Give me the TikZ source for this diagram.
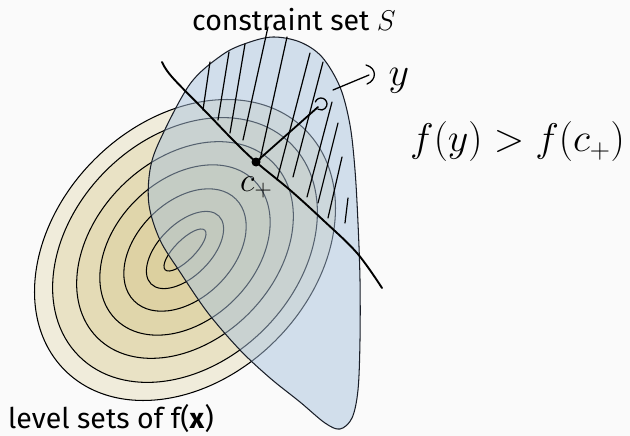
\RequirePackage{fix-cm}
\documentclass[tikz,border=0pt]{standalone}
\usepackage{fontspec}
\setmainfont{Fira Sans}
\definecolor{bgc}{RGB}{250,250,250}
\definecolor{lvl}{RGB}{218,204,148}
\definecolor{cset}{RGB}{170,195,222}
\definecolor{csetline}{RGB}{25,30,40}
\tikzset{
  levelset/.style={draw=black, line width=1.05pt, fill=lvl, fill opacity=0.3},
  constraintset/.style={draw=csetline, line width=1.05pt, fill=cset, fill opacity=0.5},
  hatch/.style={line width=1.2pt, line cap=round},
  curveline/.style={line width=1.9pt, line cap=round},
  penline/.style={line width=1.8pt, line cap=round},
  label/.style={inner sep=0pt, font=\fontsize{28.5}{34}\selectfont},
}
\begin{document}
\begin{tikzpicture}[x=1pt,y=-1pt]
\useasboundingbox (0,0) rectangle (630,436);
\fill[bgc] (0,0) rectangle (630,436);
% level sets
\begin{scope}[shift={(185,250)},rotate=45]
  \foreach \a/\b in {170/128,150/112,124/90,98/70,72/48,48/26,28/10}
    \path[levelset] (0,0) ellipse [x radius=\a, y radius=\b];
\end{scope}
% constraint set
\path[constraintset] plot[smooth cycle, tension=0.55] coordinates {
  (273,37) (300,42) (322,57) (340,87) (350,125) (355,170) (358,223) (360,280)
  (360,340) (358,390) (352,418) (340,429) (325,423) (300,402) (270,378) (240,350)
  (208,313) (180,272) (160,240) (149,205) (150,170) (160,140) (190,84) (222,55) (247,43)};
% hatching
\draw[hatch] (210,62) -- (203,110)
  (229,52) -- (218,120)
  (245,44) -- (230,133)
  (268,27) -- (243,140)
  (287,37) -- (260,160)
  (310,53) -- (277,180)
  (323,62) -- (293,177)
  (332,102) -- (307,197)
  (338,123) -- (318,203)
  (342,157) -- (328,218)
  (348,198) -- (345,223);
% separating curve
\draw[curveline] plot[smooth, tension=0.6] coordinates {
  (162,62) (172,77) (207,113) (233,140) (256,162) (290,190) (323,220) (357,253) (382,288)};
% points
\coordinate (cplus) at (256,162);
\coordinate (ypt) at (318,107);
\coordinate (ytail) at (333,90);
\coordinate (yhead) at (369,75);
\draw[penline] (cplus) -- (ypt);
\fill (cplus) circle[radius=4.5];
\draw[penline, line width=1.3pt] (321,104) ++(-160:6) arc[start angle=-160, end angle=120, radius=6];
\draw[penline, line width=1.3pt] (ytail) -- (yhead);
\draw[penline, line width=1.3pt] (366,65) .. controls (377,68) and (377,80) .. (367,84);
% labels
\node[label, anchor=base west] (title) at (192,31) {constraint set $S$};
\node[label, anchor=base west] (lvllabel) at (8,428) {level sets of f(\textbf{x})};
\node[inner sep=0pt, anchor=base, font=\fontsize{40}{48}\selectfont] (ylab) at (399,86) {$y$};
\node[inner sep=0pt, anchor=base west, font=\fontsize{34}{40}\selectfont] (clab) at (240,191) {$c_{+}$};
\node[inner sep=0pt, anchor=base west, font=\fontsize{40}{48}\selectfont] (ineq) at (410,152) {$f(y) > f(c_{+})$};
\end{tikzpicture}
\end{document}
